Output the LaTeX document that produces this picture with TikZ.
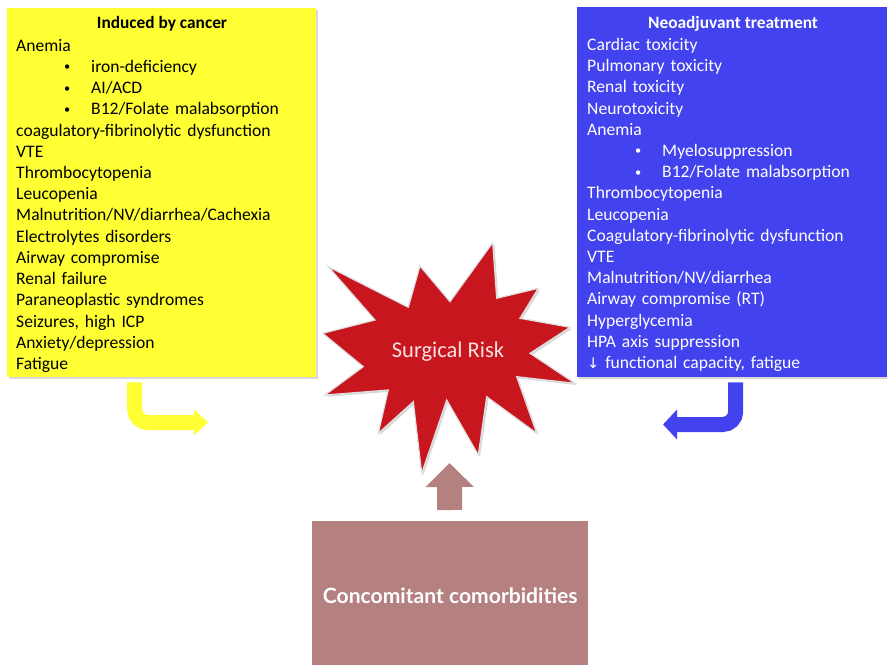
\documentclass[tikz,border=0pt]{standalone}
\usepackage{fontspec}
\setmainfont{Carlito}
\newfontfamily\comofont{Lato}
\newfontfamily\symfont{DejaVu Sans}
\usetikzlibrary{arrows.meta, positioning, calc, shadows}
\definecolor{cYellow}{RGB}{255,255,51}
\definecolor{cBlue}{RGB}{66,66,238}
\definecolor{cRed}{RGB}{200,22,30}
\definecolor{cBrown}{RGB}{181,129,128}
\definecolor{cPink}{RGB}{250,225,225}
\newdimen\pxu \pxu=0.03cm
\newcommand{\itembul}[1]{\hspace*{48\pxu}\makebox[27\pxu][l]{\raisebox{1.4pt}{\fontsize{10.5}{10}\selectfont\textbullet}}#1}
\tikzset{
	panel/.style     ={rectangle, anchor=north west, inner sep=0pt},
	panelshadow/.style={drop shadow={shadow xshift=1.5pt, shadow yshift=-1.5pt, opacity=0.3}},
	paneltitle/.style={anchor=base, inner sep=0pt, font=\fontsize{14.8}{16}\selectfont\bfseries},
	listtext/.style  ={anchor=north west, align=left, inner sep=0pt, text width=300\pxu, font=\fontsize{15}{18.1}\selectfont},
	bendarrow/.style ={line width=15\pxu, rounded corners=13\pxu},
	uparrow/.style   ={line width=25\pxu, cBrown, -{Triangle[length=20.5pt, width=40.1pt]}},
}
\begin{document}
\begin{tikzpicture}[x=0.03cm, y=-0.03cm]
\useasboundingbox (0,0) rectangle (887,664);
% side panels
\node[panel, panelshadow, fill=cYellow, minimum width=309\pxu, minimum height=369\pxu] (cancer) at (7,8) {};
\node[panel, panelshadow, fill=cBlue, minimum width=310\pxu, minimum height=370\pxu] (neo) at (577,7) {};
\node[paneltitle] (cancerTitle) at (162,28.5) {Induced by cancer};
\node[paneltitle, text=white] (neoTitle) at (733,28.5) {Neoadjuvant treatment};
\node[listtext] (cancerList) at (16,39) {Anemia\\
	\itembul{iron-deficiency}\\
	\itembul{AI/ACD}\\
	\itembul{B12/Folate malabsorption}\\
	coagulatory-fibrinolytic dysfunction\\
	VTE\\
	Thrombocytopenia\\
	Leucopenia\\
	Malnutrition/NV/diarrhea/Cachexia\\
	Electrolytes disorders\\
	Airway compromise\\
	Renal failure\\
	Paraneoplastic syndromes\\
	Seizures, high ICP\\
	Anxiety/depression\\
	Fatigue};
\node[listtext, text=white] (neoList) at (587,38) {Cardiac toxicity\\
	Pulmonary toxicity\\
	Renal toxicity\\
	Neurotoxicity\\
	Anemia\\
	\itembul{Myelosuppression}\\
	\itembul{B12/Folate malabsorption}\\
	Thrombocytopenia\\
	Leucopenia\\
	Coagulatory-fibrinolytic dysfunction\\
	VTE\\
	Malnutrition/NV/diarrhea\\
	Airway compromise (RT)\\
	Hyperglycemia\\
	HPA axis suppression\\
	{\symfont\fontsize{12.5}{18.1}\selectfont ↓} functional capacity, fatigue};
% central star
\draw[fill=cRed, draw=gray!25, line width=1.2\pxu, panelshadow]
	(492.7,242.7) -- (450,301.7) -- (420,266) -- (408.3,307.3) -- (328.3,266.7) -- (375,320)
	-- (322.7,333.3) -- (363.3,366.7) -- (325,395) -- (388.3,390) -- (378.3,433.3) -- (413.3,401.7)
	-- (421.7,473.3) -- (446.7,400) -- (478.3,455) -- (486.7,396.7) -- (536.7,433.3) -- (516.7,376.7)
	-- (575,383.3) -- (530,353.3) -- (570,327.3) -- (520,318.3) -- (538.3,288.3) -- (496.7,298.3) -- cycle;
\node[anchor=base, inner sep=0pt, text=cPink, font=\fontsize{19.2}{22}\selectfont] (risk) at (448,357) {Surgical Risk};
% comorbidities block
\node[panel, fill=cBrown, minimum width=276\pxu, minimum height=150\pxu, text=white,
	font=\comofont\bfseries\fontsize{18}{20}\selectfont] (como) at (312,521) {Concomitant comorbidities};
% block arrows
\coordinate (yellowTip) at (208,422.5);
\coordinate (blueTip) at (663,424.5);
\coordinate (riskTip) at (449.5,463);
\draw[bendarrow, cYellow, -{Triangle[length=11.95pt, width=21.3pt]}] ([xshift=-27\pxu, yshift=-5\pxu]cancer.south) |- (yellowTip);
\draw[bendarrow, cBlue, -{Triangle[length=11.95pt, width=24.75pt]}] ([xshift=3.5\pxu, yshift=-5\pxu]neo.south) |- (blueTip);
\draw[uparrow] ([xshift=-0.5\pxu, yshift=11\pxu]como.north) -- (riskTip);
\end{tikzpicture}
\end{document}
